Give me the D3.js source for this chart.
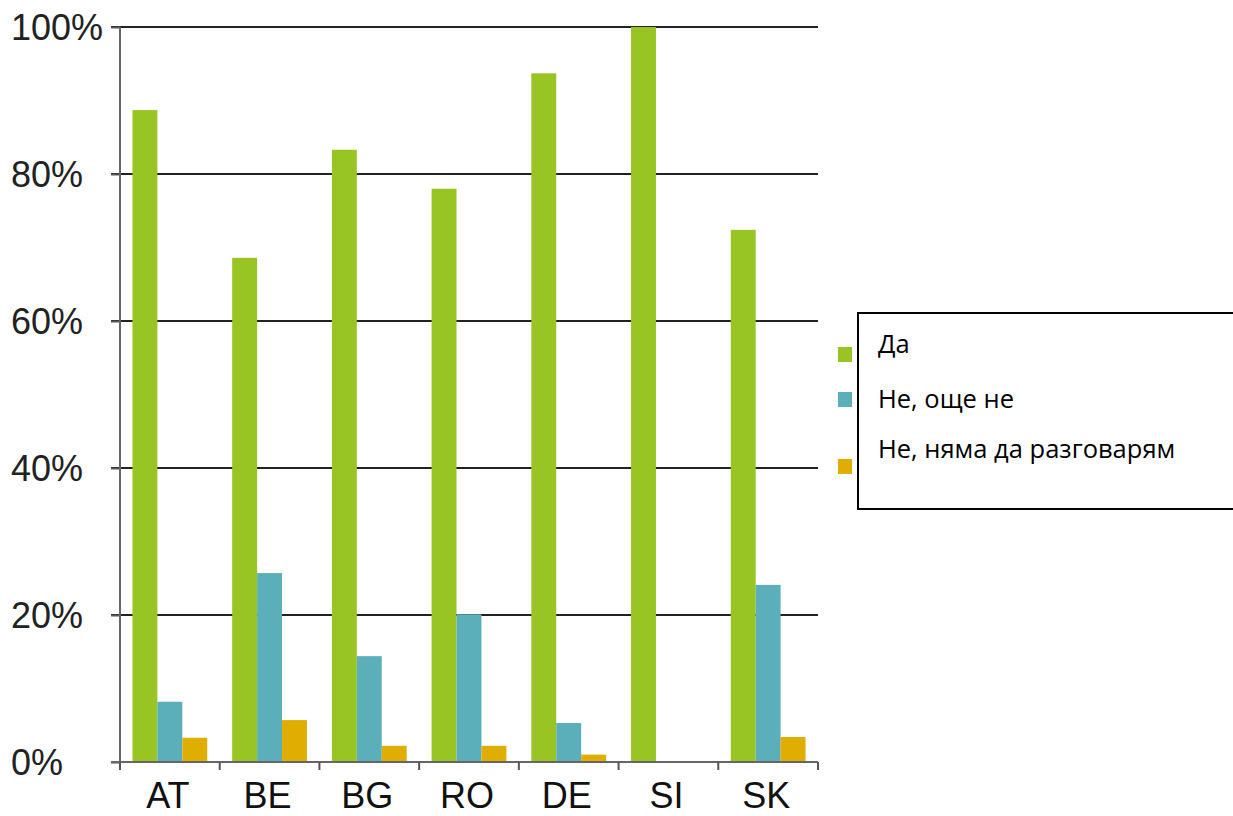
<!DOCTYPE html>
<html><head><meta charset="utf-8">
<script src="https://cdn.jsdelivr.net/npm/d3@7"></script>
<style>body{margin:0;background:#fff;overflow:hidden}</style>
</head><body>
<svg id="c" width="1233" height="816"></svg>
<script>
const categories = ["AT","BE","BG","RO","DE","SI","SK"];
const seriesNames = ["Да","Не, още не","Не, няма да разговарям"];
const seriesColors = ["#99c524","#5aafbb","#e0ae00"];
const yesValues = [88.7, 68.6, 83.3, 78.0, 93.7, 100, 72.4];
const notYetValues = [8.2, 25.7, 14.4, 20.1, 5.3, 0, 24.1];
const wontValues = [3.3, 5.7, 2.2, 2.2, 1.0, 0, 3.4];
const yTicks = [0, 20, 40, 60, 80, 100];
const series = [yesValues, notYetValues, wontValues];

const svg = d3.select("#c");
const x = d3.scaleBand().domain(categories).range([120, 818]).paddingInner(0.25).paddingOuter(0.125);
const xs = d3.scaleBand().domain(d3.range(series.length)).range([0, x.bandwidth()]);
const y = d3.scaleLinear().domain([0, 100]).range([762, 27]);

// gridlines
svg.append("g").selectAll("line").data(yTicks.filter(d => d > 0)).join("line")
  .attr("x1", 111).attr("x2", 818).attr("y1", d => y(d)).attr("y2", d => y(d))
  .attr("stroke", "#222").attr("stroke-width", 2);

// bars
const g = svg.append("g");
categories.forEach((c, i) => {
  series.forEach((s, k) => {
    if (s[i] <= 0) return;
    g.append("rect")
      .attr("x", x(c) + xs(k)).attr("width", xs.bandwidth())
      .attr("y", y(s[i])).attr("height", y(0) - y(s[i]))
      .attr("fill", seriesColors[k]);
  });
});

// y axis
const yAxis = svg.append("g").attr("transform", "translate(120,0)")
  .call(d3.axisLeft(y).tickValues(yTicks).tickSize(9).tickFormat(""));
yAxis.select(".domain").remove();
yAxis.selectAll("line").attr("stroke", "#555").attr("stroke-width", 2);
svg.append("line").attr("x1", 120).attr("x2", 120).attr("y1", y(100)).attr("y2", y(0) + 8)
  .attr("stroke", "#666").attr("stroke-width", 2);
svg.append("g").selectAll("text").data(yTicks).join("text")
  .attr("x", 11).attr("y", d => y(d)).attr("dy", "0.36em")
  .attr("font-family", "Liberation Sans, Arial, sans-serif").attr("font-size", 36)
  .attr("fill", "#222").text(d => d + "%");

// x axis
const xAxis = svg.append("g").attr("transform", `translate(0,${y(0)})`)
  .call(d3.axisBottom(x).tickSize(0).tickFormat(""));
xAxis.select(".domain").attr("stroke", "#666").attr("stroke-width", 2).attr("d", "M111,0H818");
const edges = categories.map(c => x(c) - x.step() * x.paddingInner() / 2);
edges.push(818);
svg.append("g").selectAll("line").data(edges).join("line")
  .attr("x1", d => d).attr("x2", d => d).attr("y1", y(0)).attr("y2", y(0) + 8)
  .attr("stroke", "#555").attr("stroke-width", 2);
svg.append("g").selectAll("text").data(categories).join("text")
  .attr("x", d => x(d) + x.bandwidth() / 2 - 2).attr("y", 808)
  .attr("text-anchor", "middle")
  .attr("font-family", "Liberation Sans, Arial, sans-serif").attr("font-size", 36)
  .attr("fill", "#111").text(d => d);

// legend
const legY = [355, 400, 467];
svg.append("g").selectAll("rect").data(seriesColors).join("rect")
  .attr("x", 838).attr("y", (d, i) => legY[i] - 8).attr("width", 14).attr("height", 15)
  .attr("fill", d => d);
svg.append("rect").attr("x", 858).attr("y", 313).attr("width", 400).attr("height", 196)
  .attr("fill", "#fff").attr("stroke", "#000").attr("stroke-width", 2);
const legTextY = [353, 408, 458];
svg.append("g").selectAll("text").data(seriesNames).join("text")
  .attr("x", 878).attr("y", (d, i) => legTextY[i])
  .attr("font-family", "Open Sans, Noto Sans, sans-serif").attr("font-size", 25.5)
  .attr("fill", "#000").text(d => d);
</script>
</body></html>
